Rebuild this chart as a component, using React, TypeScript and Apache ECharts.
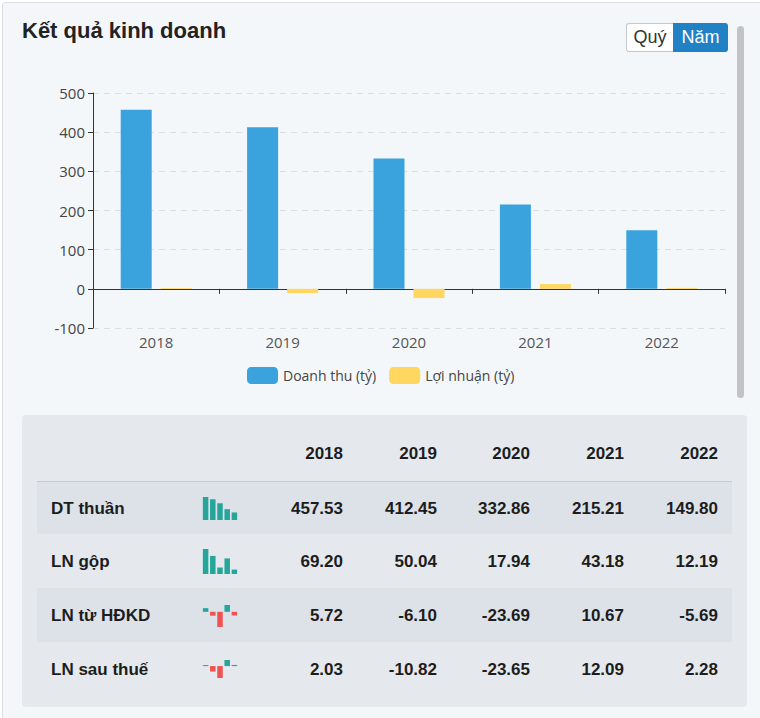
import React, { useEffect, useRef } from "react";
import * as echarts from "echarts";

const years = ["2018", "2019", "2020", "2021", "2022"];
const revenue = [457.53, 412.45, 332.86, 215.21, 149.8];
const profit = [2.03, -10.82, -23.65, 12.09, 2.28];

const rowLabels = ["DT thuần", "LN gộp", "LN từ HĐKD", "LN sau thuế"];
const dtThuan = [457.53, 412.45, 332.86, 215.21, 149.8];
const lnGop = [69.2, 50.04, 17.94, 43.18, 12.19];
const lnHdkd = [5.72, -6.1, -23.69, 10.67, -5.69];
const lnSauThue = [2.03, -10.82, -23.65, 12.09, 2.28];
const tableRows = [dtThuan, lnGop, lnHdkd, lnSauThue];

const BLUE = "#3aa2dc";
const YELLOW = "#fed660";
const TEAL = "#26a69a";
const RED = "#ef5350";
const TABLE_FONT = "'Liberation Sans', Arial, sans-serif";
const CHART_FONT = "'Open Sans', 'Noto Sans', sans-serif";

// layout constants
const colRight = [343, 437, 530, 624, 718];
const rowTop = [482, 534, 588, 642];
const rowH = [52, 54, 54, 53];
const sparkBox = [
  { top: 497, height: 23 },
  { top: 549, height: 25 },
  { top: 605, height: 22 },
  { top: 660, height: 18 },
];

export default function App() {
  const mainRef = useRef<HTMLDivElement>(null);
  const sparkRef = useRef<HTMLDivElement>(null);

  useEffect(() => {
    const chart = echarts.init(mainRef.current!, null, { renderer: "svg" });
    chart.setOption({
      animation: false,
      textStyle: { fontFamily: CHART_FONT },
      grid: { left: 93, right: 35, top: 93, bottom: 72 },
      legend: {
        top: 367,
        left: 247,
        padding: 0,
        icon: "roundRect",
        itemWidth: 31,
        itemHeight: 17,
        itemGap: 13,
        textStyle: { fontSize: 14, color: "#444", fontFamily: CHART_FONT },
        data: ["Doanh thu (tỷ)", "Lợi nhuận (tỷ)"],
      },
      xAxis: [
        {
          type: "category",
          data: years,
          axisLine: { onZero: true, lineStyle: { color: "#333" } },
          axisTick: { show: true, length: 5, lineStyle: { color: "#333" } },
          axisLabel: { show: false },
          splitLine: { show: false },
        },
        {
          type: "category",
          data: years,
          position: "bottom",
          axisLine: { show: false, onZero: false },
          axisTick: { show: false },
          axisLabel: { color: "#555", fontSize: 15, margin: 6, fontFamily: CHART_FONT },
          splitLine: { show: false },
        },
      ],
      yAxis: {
        type: "value",
        min: -100,
        max: 500,
        interval: 100,
        axisLine: { show: true, lineStyle: { color: "#333" } },
        axisTick: { show: true, length: 5, lineStyle: { color: "#333" } },
        axisLabel: { color: "#444", fontSize: 15, margin: 8, fontFamily: CHART_FONT },
        splitLine: { show: true, lineStyle: { color: "#dadee3", type: [6, 5] } },
      },
      series: [
        {
          name: "Doanh thu (tỷ)",
          type: "bar",
          data: revenue,
          barWidth: 31,
          barGap: "29%",
          itemStyle: { color: BLUE },
        },
        {
          name: "Lợi nhuận (tỷ)",
          type: "bar",
          data: profit,
          barWidth: 31,
          itemStyle: { color: YELLOW },
        },
      ],
    });

    const spark = echarts.init(sparkRef.current!, null, { renderer: "svg" });
    spark.setOption({
      animation: false,
      grid: sparkBox.map((b) => ({ left: 202, width: 36, top: b.top, height: b.height })),
      xAxis: tableRows.map((_, i) => ({
        type: "category",
        gridIndex: i,
        data: years,
        show: false,
      })),
      yAxis: tableRows.map((_, i) => ({
        type: "value",
        gridIndex: i,
        show: false,
        min: (v: any) => Math.min(0, v.min),
        max: (v: any) => Math.max(0, v.max),
      })),
      series: tableRows.map((row, i) => ({
        type: "bar",
        xAxisIndex: i,
        yAxisIndex: i,
        barWidth: 5.5,
        data: row.map((v) => ({ value: v, itemStyle: { color: v >= 0 ? TEAL : RED } })),
      })),
    });

    return () => {
      chart.dispose();
      spark.dispose();
    };
  }, []);

  const abs = (s: React.CSSProperties): React.CSSProperties => ({ position: "absolute", ...s });

  return (
    <div style={abs({ left: 0, top: 0, width: 760, height: 718, background: "#fff", overflow: "hidden" })}>
      <div
        style={abs({
          left: 2,
          top: 2,
          width: 800,
          height: 800,
          background: "#f4f7fa",
          border: "1px solid #dce0e5",
          borderRadius: 3,
        })}
      />
      <div
        style={abs({
          left: 22,
          top: 18,
          fontFamily: TABLE_FONT,
          fontWeight: "bold",
          fontSize: 22,
          color: "#222",
          whiteSpace: "nowrap",
        })}
      >
        Kết quả kinh doanh
      </div>
      <div
        style={abs({
          left: 626,
          top: 23,
          width: 46,
          height: 27,
          border: "1px solid #c6c9cc",
          borderRight: "none",
          borderRadius: "3px 0 0 3px",
          background: "#fff",
          color: "#333",
          fontFamily: TABLE_FONT,
          fontSize: 18,
          lineHeight: "27px",
          textAlign: "center",
        })}
      >
        Quý
      </div>
      <div
        style={abs({
          left: 673,
          top: 23,
          width: 55,
          height: 29,
          borderRadius: "0 3px 3px 0",
          background: "#2181c5",
          color: "#fff",
          fontFamily: TABLE_FONT,
          fontSize: 18,
          lineHeight: "29px",
          textAlign: "center",
        })}
      >
        Năm
      </div>
      <div style={abs({ left: 737, top: 26, width: 7, height: 372, background: "#c1c3c5", borderRadius: 4 })} />

      <div ref={mainRef} style={abs({ left: 0, top: 0, width: 760, height: 400 })} />

      <div style={abs({ left: 22, top: 415, width: 725, height: 292, background: "#e5e9ee", borderRadius: 4 })} />
      {rowTop.map((t, i) =>
        i % 2 === 0 ? (
          <div key={"bg" + i} style={abs({ left: 37, top: t, width: 695, height: rowH[i], background: "#dde2e9" })} />
        ) : null
      )}
      <div style={abs({ left: 37, top: 481, width: 695, height: 1, background: "#c3cad4" })} />
      {years.map((y, j) => (
        <div
          key={"h" + y}
          style={abs({
            left: colRight[j] - 80,
            top: 444,
            width: 80,
            textAlign: "right",
            fontFamily: TABLE_FONT,
            fontWeight: "bold",
            fontSize: 17,
            lineHeight: "20px",
            color: "#1d1d1d",
          })}
        >
          {y}
        </div>
      ))}
      {tableRows.map((row, i) => (
        <React.Fragment key={"r" + i}>
          <div
            style={abs({
              left: 51,
              top: rowTop[i] + rowH[i] / 2 - 9,
              fontFamily: TABLE_FONT,
              fontWeight: "bold",
              fontSize: 17,
              lineHeight: "20px",
              color: "#1d1d1d",
              whiteSpace: "nowrap",
            })}
          >
            {rowLabels[i]}
          </div>
          {row.map((v, j) => (
            <div
              key={"c" + i + "-" + j}
              style={abs({
                left: colRight[j] - 90,
                top: rowTop[i] + rowH[i] / 2 - 9,
                width: 90,
                textAlign: "right",
                fontFamily: TABLE_FONT,
                fontWeight: "bold",
                fontSize: 17,
                lineHeight: "20px",
                color: "#1d1d1d",
              })}
            >
              {v.toFixed(2)}
            </div>
          ))}
        </React.Fragment>
      ))}
      <div ref={sparkRef} style={abs({ left: 0, top: 0, width: 760, height: 718, pointerEvents: "none" })} />
    </div>
  );
}
